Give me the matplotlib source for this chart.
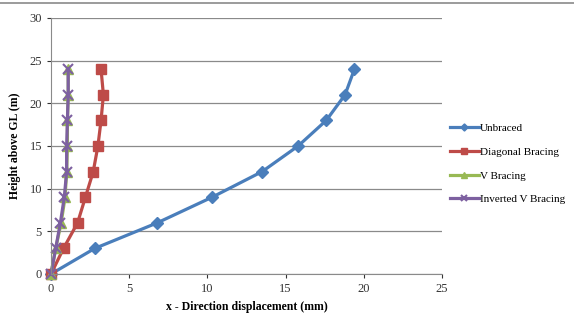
import matplotlib
matplotlib.use("Agg")
import matplotlib.pyplot as plt
from matplotlib.lines import Line2D

heights = [0, 3, 6, 9, 12, 15, 18, 21, 24]
unbraced = [0, 2.8, 6.8, 10.3, 13.5, 15.8, 17.6, 18.8, 19.4]
diagonal = [0, 0.8, 1.7, 2.2, 2.7, 3.0, 3.2, 3.35, 3.2]
v_bracing = [0, 0.3, 0.65, 0.9, 1.0, 1.05, 1.05, 1.1, 1.1]
inv_v_bracing = [0, 0.3, 0.6, 0.85, 1.0, 1.0, 1.05, 1.1, 1.1]

series_labels = ["Unbraced", "Diagonal Bracing", "V Bracing", "Inverted V Bracing"]
x_ticks = [0, 5, 10, 15, 20, 25]
y_ticks = [0, 5, 10, 15, 20, 25, 30]

plt.rcParams['font.family'] = ['Liberation Serif', 'DejaVu Serif']

fig = plt.figure(figsize=(5.74, 3.22), dpi=100)
ax = fig.add_axes([51/574, 48/322, (442-51)/574, (274-18)/322])

styles = [
    dict(color="#4A7EBB", marker="D", ms=6),
    dict(color="#BE4B48", marker="s", ms=7.5),
    dict(color="#98B954", marker="^", ms=6.5),
    dict(color="#7D60A0", marker="x", ms=6.5, mew=1.5),
]
for xs, lab, st in zip([unbraced, diagonal, v_bracing, inv_v_bracing], series_labels, styles):
    ax.plot(xs, heights, lw=2.3, label=lab, clip_on=False, **st)

ax.set_xlim(0, 25)
ax.set_ylim(0, 30)
ax.set_xticks(x_ticks)
ax.set_yticks(y_ticks)
ax.grid(axis='y', color="#8a8a8a", lw=0.9)
ax.set_axisbelow(True)
for s in ['top', 'right']:
    ax.spines[s].set_visible(False)
for s in ['left', 'bottom']:
    ax.spines[s].set_color("#8a8a8a")
ax.tick_params(axis='both', labelsize=9, colors="#333333", length=3, direction='out')

ax.set_xlabel("x - Direction displacement (mm)", fontsize=8.5, fontweight='bold', labelpad=4)
ax.set_ylabel("Height above GL (m)", fontsize=8.5, fontweight='bold', labelpad=6)

leg = ax.legend(loc='center left', bbox_to_anchor=(0.995, 0.43), frameon=False,
                fontsize=8, handlelength=2.6, handletextpad=0.1, labelspacing=1.25,
                markerscale=0.6)

fig.add_artist(Line2D([0, 1], [1 - 3/322, 1 - 3/322], color="#8a8a8a", lw=1.2,
                      transform=fig.transFigure))

fig.savefig("out.png", dpi=100)
